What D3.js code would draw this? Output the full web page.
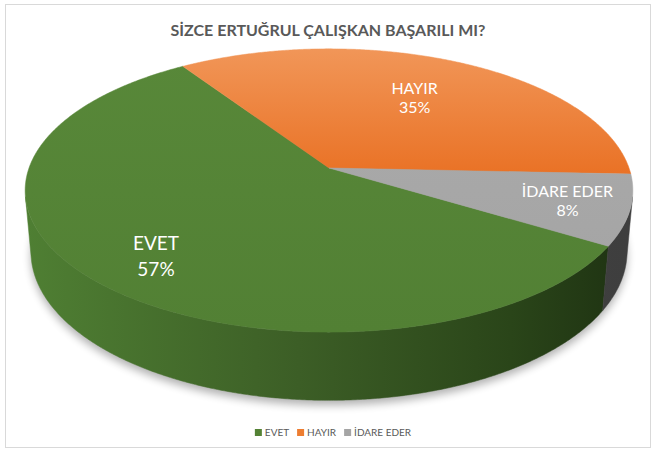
<!DOCTYPE html>
<html><head><meta charset="utf-8">
<script src="https://cdn.jsdelivr.net/npm/d3@7"></script>
<style>body{margin:0;background:#fff} svg{display:block}</style>
</head><body>
<script>
const categories = ["EVET", "HAYIR", "İDARE EDER"];
const values = [57, 35, 8];
const percentLabels = ["57%", "35%", "8%"];
const colors = ["#548235", "#ED7D31", "#A5A5A5"];
const chartTitle = "SİZCE ERTUĞRUL ÇALIŞKAN BAŞARILI MI?";

const W = 660, H = 455;
const FONT = "Lato, 'Open Sans', sans-serif";
const svg = d3.select("body").append("svg").attr("width", W).attr("height", H);
const defs = svg.append("defs");

svg.append("rect").attr("x", 5.5).attr("y", 4.5).attr("width", 645).attr("height", 443)
  .attr("fill", "#fff").attr("stroke", "#d9d9d9");

svg.append("text").attr("x", 328).attr("y", 36).attr("text-anchor", "middle")
  .attr("font-family", FONT).attr("font-weight", "bold").attr("font-size", 16)
  .attr("fill", "#595959").text(chartTitle);

// perspective projection of a tilted disc
const cx = 329, cy = 168, k = 5.59, phi = 27.4 * Math.PI / 180;
const s = Math.sin(phi), c = Math.cos(phi), F = 300 * k, thick = 0.232;
function proj(theta, r, Y) {
  const X = r * Math.sin(theta), Z = -r * Math.cos(theta);
  const u = Y * c - Z * s, w = k - Z * c - Y * s;
  return [cx + F * X / w, cy - F * u / w];
}
function arcPts(a0, a1, r, Y) {
  const n = Math.max(2, Math.ceil(Math.abs(a1 - a0) / (0.4 * Math.PI / 180)));
  return d3.range(n + 1).map(i => proj(a0 + (a1 - a0) * i / n, r, Y));
}
const line = d3.line().curve(d3.curveLinear);

const a0 = 121.3 * Math.PI / 180;
const arcs = d3.pie().sort(null).value(d => d).startAngle(a0).endAngle(a0 + 2 * Math.PI)(values);

// gradients
const wallStops = [
  [["0", "#4f7f33"], ["0.45", "#3c5e26"], ["0.8", "#2a4519"], ["1", "#1e3212"]],
  [["0", "#b85a1c"], ["1", "#8a4010"]],
  [["0", "#4a4a4a"], ["1", "#3e3e3e"]]
];
wallStops.forEach((st, i) => {
  const g = defs.append("linearGradient").attr("id", "wall" + i).attr("gradientUnits", "userSpaceOnUse")
    .attr("x1", 26).attr("x2", 632).attr("y1", 0).attr("y2", 0);
  st.forEach(([o, col]) => g.append("stop").attr("offset", o).attr("stop-color", col));
});
const topStops = [
  [["0", "#588839"], ["1", "#528034"]],
  [["0", "#f19658"], ["1", "#e97023"]],
  [["0", "#ababab"], ["1", "#a3a3a3"]]
];
topStops.forEach((st, i) => {
  const g = defs.append("linearGradient").attr("id", "top" + i).attr("gradientUnits", "userSpaceOnUse")
    .attr("x1", 0).attr("x2", 0).attr("y1", 49).attr("y2", i === 1 ? 180 : 332);
  st.forEach(([o, col]) => g.append("stop").attr("offset", o).attr("stop-color", col));
});
const blur = defs.append("filter").attr("id", "blur").attr("x", "-20%").attr("y", "-20%").attr("width", "140%").attr("height", "140%");
blur.append("feGaussianBlur").attr("stdDeviation", 4);

// shadow
svg.append("path")
  .attr("d", line(arcPts(0, 2 * Math.PI, 1.0, -thick)) + "Z")
  .attr("transform", "translate(0,5)")
  .attr("fill", "#000").attr("opacity", 0.3).attr("filter", "url(#blur)");

// walls (front-facing portion only)
const th0 = Math.acos(-1 / (k * c));
const walls = svg.append("g");
arcs.forEach((a, i) => {
  [0, 1].forEach(m => {
    const lo = Math.max(a.startAngle, th0 + 2 * Math.PI * m);
    const hi = Math.min(a.endAngle, 2 * Math.PI - th0 + 2 * Math.PI * m);
    if (hi > lo) {
      const pts = arcPts(lo, hi, 1, 0).concat(arcPts(hi, lo, 1, -thick));
      walls.append("path").attr("d", line(pts) + "Z")
        .attr("fill", `url(#wall${i})`).attr("stroke", `url(#wall${i})`).attr("stroke-width", 0.5);
    }
  });
});

// top faces
const tops = svg.append("g");
arcs.forEach((a, i) => {
  const pts = [proj(0, 0, 0)].concat(arcPts(a.startAngle, a.endAngle, 1, 0));
  tops.append("path").attr("d", line(pts) + "Z")
    .attr("fill", `url(#top${i})`).attr("stroke", `url(#top${i})`).attr("stroke-width", 0.5);
});

// labels
const labelR = [0.78, 0.63, 0.8];
const labelSize = [19, 16, 16];
const labelGap = [26, 19, 19];
arcs.forEach((a, i) => {
  const mid = (a.startAngle + a.endAngle) / 2 - (i === 0 ? 0.03 : 0);
  const [x, y] = proj(mid, labelR[i], 0);
  const t = svg.append("text").attr("text-anchor", "middle").attr("font-family", FONT)
    .attr("font-size", labelSize[i]).attr("fill", "#ffffff");
  t.append("tspan").attr("x", x).attr("y", y - labelGap[i] / 2 + labelSize[i] * 0.35).text(categories[i]);
  t.append("tspan").attr("x", x).attr("y", y + labelGap[i] / 2 + labelSize[i] * 0.35).text(percentLabels[i]);
});

// legend
const leg = svg.append("g");
let lx = 0;
categories.forEach((name, i) => {
  const g = leg.append("g").attr("transform", `translate(${lx},0)`);
  g.append("rect").attr("x", 0).attr("y", -7).attr("width", 7).attr("height", 7).attr("fill", colors[i]);
  const t = g.append("text").attr("x", 10).attr("y", 0).attr("font-family", FONT).attr("font-size", 10)
    .attr("fill", "#595959").text(name);
  lx += 10 + t.node().getComputedTextLength() + 8;
});
leg.attr("transform", `translate(${333 - (lx - 8) / 2},436)`);
</script>
</body></html>
